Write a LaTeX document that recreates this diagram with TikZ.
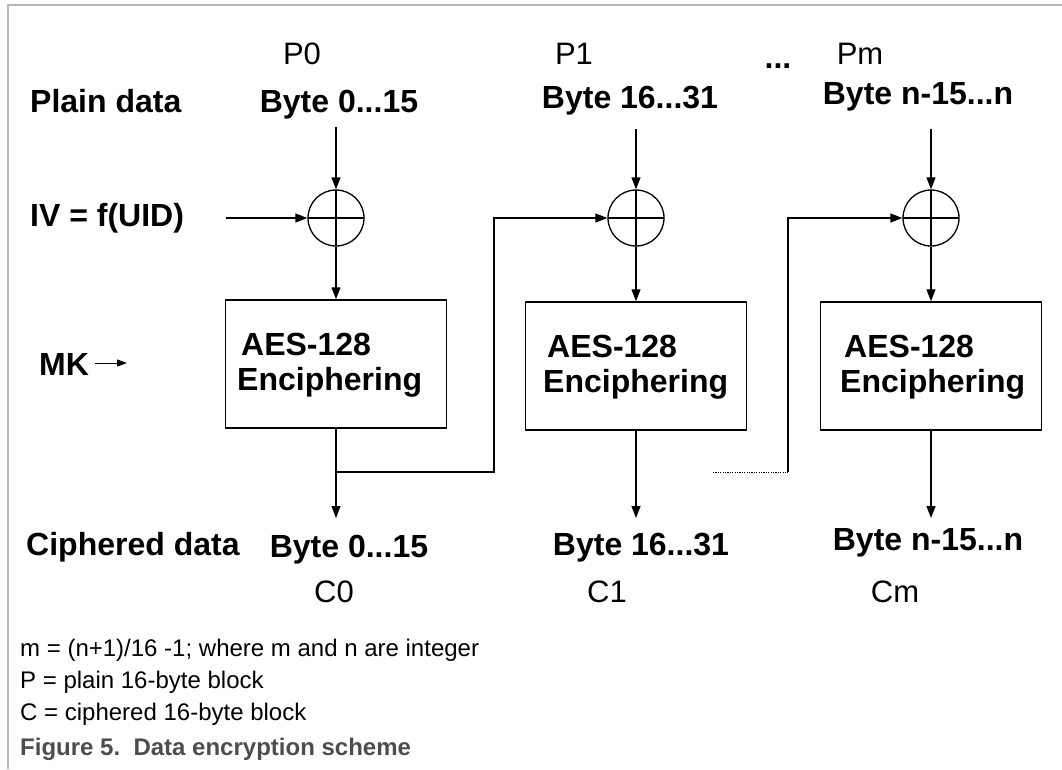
\documentclass[tikz,border=0pt]{standalone}
\usepackage{fontspec}
\setmainfont{Liberation Sans}
\usetikzlibrary{arrows.meta}
\definecolor{framegray}{HTML}{B8B8B8}
\definecolor{captiongray}{HTML}{4D4D4D}
\begin{document}
\begin{tikzpicture}[x=1pt,y=-1pt,
  lbl/.style={font=\fontsize{32}{38}\selectfont\bfseries, inner sep=0pt, anchor=base},
  tag/.style={font=\fontsize{31}{37}\selectfont, inner sep=0pt, anchor=base},
  note/.style={font=\fontsize{24}{29}\selectfont, inner sep=0pt, anchor=base west},
  wire/.style={line width=1.3pt},
  flow/.style={wire, -{Triangle[length=12pt,width=9pt]}},
  xorop/.style={circle, draw, line width=1.3pt, minimum size=56pt, inner sep=0pt,
    path picture={\draw[line width=1.3pt]
      (path picture bounding box.north) -- (path picture bounding box.south)
      (path picture bounding box.west) -- (path picture bounding box.east);}},
  aes/.style={draw, line width=1.5pt, minimum width=221pt, minimum height=128pt, inner sep=0pt}
]
\useasboundingbox (0,0) rectangle (1062,769);

% frame
\draw[framegray, line width=2pt] (1062,5) -- (8,5) -- (8,769);

% row labels
\node[lbl, anchor=base west] (plain) at (30,112) {Plain data};
\node[lbl, anchor=base west] (ivlbl) at (30,226) {IV = f(UID)};
\node[lbl, anchor=base west] (mk) at (39,375) {MK};
\node[lbl, anchor=base west] (ciph) at (26,555) {Ciphered data};

% plain blocks
\node[tag] (p0) at (302,64) {P0};
\node[lbl] (pb0) at (339,112) {Byte 0...15};
\node[tag] (p1) at (574,64) {P1};
\node[lbl] (pb1) at (630,108) {Byte 16...31};
\node[lbl] (skip) at (778,68) {...};
\node[tag] (pm) at (860,64) {Pm};
\node[lbl] (pbm) at (918,104) {Byte n-15...n};

% XOR operators
\node[xorop] (X1) at (336,218) {};
\node[xorop] (X2) at (636,218) {};
\node[xorop] (X3) at (931,218) {};

% cipher boxes
\node[aes] (E1) at (336,364) {};
\node[aes] (E2) at (636,366) {};
\node[aes] (E3) at (931,366) {};
\node[lbl, anchor=base west] (E1a) at (241,355) {AES-128};
\node[lbl, anchor=base west] (E1b) at (237,390) {Enciphering};
\node[lbl, anchor=base west] (E2a) at (547,357) {AES-128};
\node[lbl, anchor=base west] (E2b) at (543,392) {Enciphering};
\node[lbl, anchor=base west] (E3a) at (844,357) {AES-128};
\node[lbl, anchor=base west] (E3b) at (840,392) {Enciphering};

% ciphered blocks
\node[lbl] (cb0) at (349,557) {Byte 0...15};
\node[lbl] (cb1) at (641,555) {Byte 16...31};
\node[lbl] (cbm) at (928,550) {Byte n-15...n};
\node[tag] (c0) at (334,602) {C0};
\node[tag] (c1) at (607,602) {C1};
\node[tag] (cm) at (895,602) {Cm};

% connector ends
\coordinate (in0) at (336,127);
\coordinate (in1) at (636,129);
\coordinate (inm) at (931,129);
\coordinate (ivs) at (226,218);
\coordinate (mks) at (95,363);
\coordinate (mke) at (127,363);
\coordinate (out0) at (336,518);
\coordinate (out1) at (636,518);
\coordinate (outm) at (931,518);
\coordinate (j1) at (336,472);
\coordinate (k1) at (494,472);
\coordinate (d2) at (713,472);
\coordinate (k2) at (788,472);

% data flow
\draw[flow] (in0) -- (X1.north);
\draw[flow] (in1) -- (X2.north);
\draw[flow] (inm) -- (X3.north);
\draw[flow] (ivs) -- (X1.west);
\draw[line width=1pt, -{Triangle[length=10pt,width=7pt]}] (mks) -- (mke);
\draw[flow] (X1.south) -- (E1.north);
\draw[flow] (X2.south) -- (E2.north);
\draw[flow] (X3.south) -- (E3.north);
\draw[flow] (E1.south) -- (out0);
\draw[flow] (E2.south) -- (out1);
\draw[flow] (E3.south) -- (outm);

% chaining
\draw[flow] (j1) -- (k1) |- (X2.west);
\draw[line width=1pt, dash pattern=on 1.2pt off 1.2pt] (d2) -- (k2);
\draw[flow] (k2) |- (X3.west);

% notes and caption
\node[note] (n1) at (20,656) {m = (n+1)/16 -1; where m and n are integer};
\node[note] (n2) at (20,688) {P = plain 16-byte block};
\node[note] (n3) at (20,720) {C = ciphered 16-byte block};
\node[note, font=\fontsize{24}{29}\selectfont\bfseries, text=captiongray] (cap) at (20,755) {Figure 5.\ \ Data encryption scheme};
\end{tikzpicture}
\end{document}
